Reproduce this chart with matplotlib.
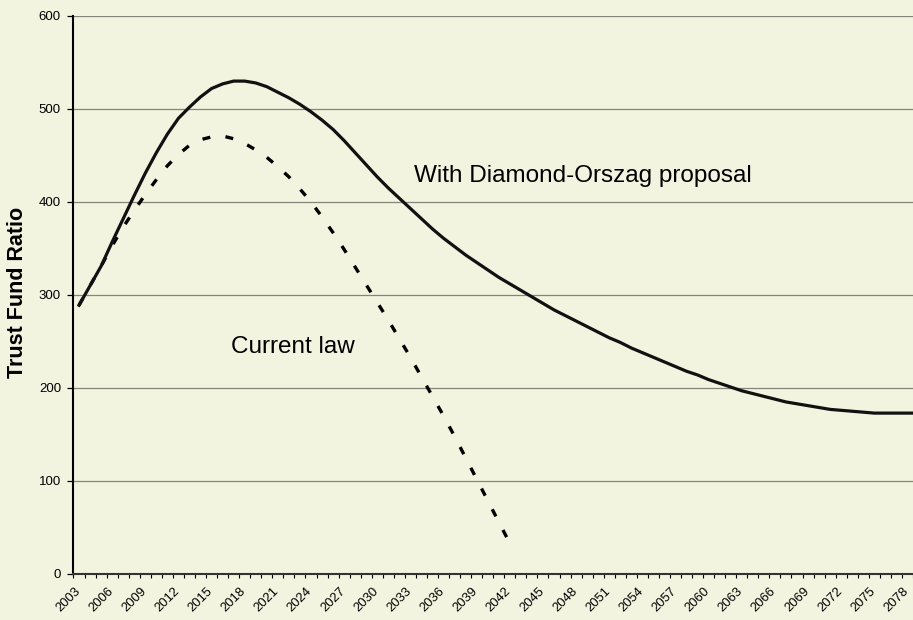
import numpy as np
import matplotlib
matplotlib.use("Agg")
import matplotlib.pyplot as plt

# trust fund ratio (annual points)
years_proposal = list(range(2003, 2080))
ratio_proposal = [289, 310, 331, 357, 382, 407, 431, 453, 473, 490,
                  502, 513, 522, 527, 530, 530, 528, 524, 518, 512,
                  505, 497, 488, 478, 466, 453, 440, 427, 415, 404,
                  393, 382, 371, 361, 352, 343, 335, 327, 319, 312,
                  305, 298, 291, 284, 278, 272, 266, 260, 254, 249,
                  243, 238, 233, 228, 223, 218, 214, 209, 205, 201,
                  197, 194, 191, 188, 185, 183, 181, 179, 177, 176,
                  175, 174, 173, 173, 173, 173, 173]

years_current = list(range(2003, 2043))
ratio_current = [289, 310, 331, 353, 373, 391, 408, 424, 439, 451,
                 461, 467, 470, 471, 468, 463, 456, 448, 438, 427,
                 414, 400, 384, 367, 349, 330, 311, 292, 273, 253,
                 233, 212, 191, 170, 148, 125, 102, 79, 56, 33]

tick_years = list(range(2003, 2079, 3))

bg = '#f2f4df'
plt.rcParams['font.family'] = ['Liberation Sans', 'DejaVu Sans']

fig = plt.figure(figsize=(9.13, 6.2), dpi=100, facecolor=bg)
ax = fig.add_axes([0.0805, 0.0742, 0.9195, 0.9])
ax.set_facecolor(bg)

ax.plot(years_current, ratio_current, color='black', lw=2.4,
        linestyle=(0, (2.4, 4.6)), solid_capstyle='butt')
ax.plot(years_proposal, ratio_proposal, color='#111111', lw=2.3)

ax.set_xlim(2002.5, 2078.1)
ax.set_ylim(0, 600)
ax.set_yticks(np.arange(0, 601, 100))
# labels sit a little left of each category centre, as in the original
ax.set_xticks([y - 0.45 for y in tick_years])
ax.set_xticks(np.arange(2002.5, 2079, 1), minor=True)
ax.set_xticklabels([str(y) for y in tick_years], rotation=45, ha='right',
                   va='top', rotation_mode='anchor', fontsize=9.4)
ax.tick_params(axis='x', which='major', length=0, pad=8)
ax.tick_params(axis='x', which='minor', length=3, width=0.8, direction='out')
ax.tick_params(axis='y', length=4, width=0.9, pad=5, labelsize=9.5)

ax.yaxis.grid(True, color='#85857c', lw=0.9)
ax.set_axisbelow(True)
for s in ['top', 'right']:
    ax.spines[s].set_visible(False)
ax.spines['left'].set_linewidth(1.5)
ax.spines['bottom'].set_linewidth(1.5)
ax.spines['bottom'].set_color('#333333')

ax.set_ylabel('Trust Fund Ratio', fontsize=15.5, fontweight='bold')
ax.yaxis.set_label_coords(-0.054, 0.505)

ax.text(2033.3, 421, 'With Diamond-Orszag proposal', fontsize=17.5,
        ha='left', va='baseline')
ax.text(2016.8, 238, 'Current law', fontsize=17.5, ha='left', va='baseline')

fig.savefig('out.png', dpi=100, facecolor=bg)
